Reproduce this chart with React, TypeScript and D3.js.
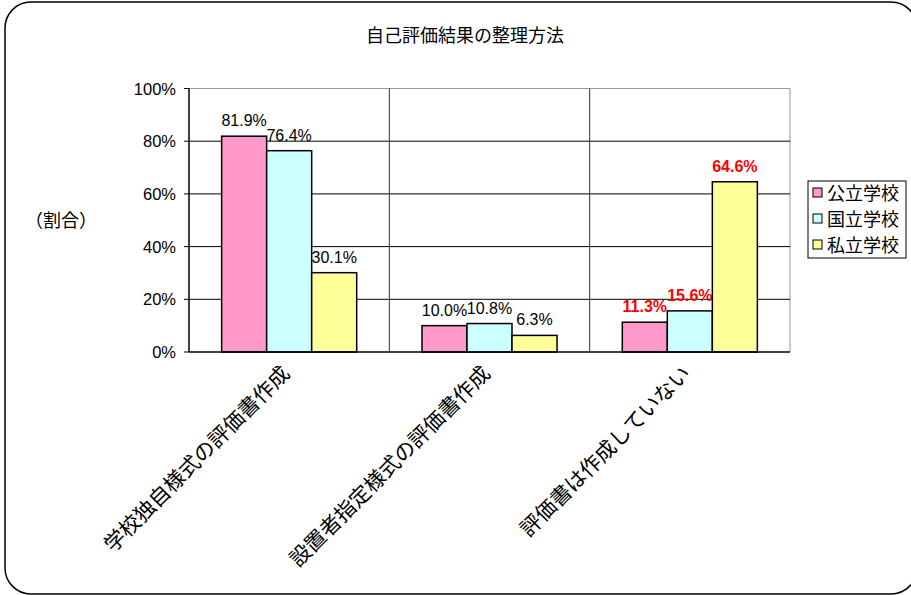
import React from "react";
import * as d3 from "d3";

const categories = ["学校独自様式の評価書作成", "設置者指定様式の評価書作成", "評価書は作成していない"];
const seriesNames = ["公立学校", "国立学校", "私立学校"];
const publicVals = [81.9, 10.0, 11.3];
const nationalVals = [76.4, 10.8, 15.6];
const privateVals = [30.1, 6.3, 64.6];
const yTicks = [0, 20, 40, 60, 80, 100];
const colors = ["#FF99CC", "#CCFFFF", "#FFFF99"];
const highlightCategory = 2;

const W = 911, H = 595;
const plot = { left: 189, right: 790, top: 88.5, bottom: 352 };
const jp = "'Noto Sans CJK JP', sans-serif";
const num = "'Liberation Sans', Arial, sans-serif";

export default function App() {
  const series = [publicVals, nationalVals, privateVals];
  const x0 = d3.scaleBand<string>().domain(categories).range([plot.left, plot.right]).paddingInner(0).paddingOuter(0);
  const x1 = d3.scaleBand<string>().domain(seriesNames).range([0, x0.bandwidth()]).paddingInner(0).paddingOuter(0.725);
  const y = d3.scaleLinear().domain([0, 100]).range([plot.bottom, plot.top]);

  return (
    <svg width={W} height={H} style={{ position: "absolute", left: 0, top: 0, background: "#fff" }}>
      <rect x={5} y={2} width={912} height={592} rx={26} ry={26} fill="#fff" stroke="#000" strokeWidth={1.5} />
      <text x={465} y={42} textAnchor="middle" fontFamily={jp} fontSize={18}>自己評価結果の整理方法</text>
      <text x={61} y={227} textAnchor="middle" fontFamily={jp} fontSize={18}>（割合）</text>

      {/* plot frame */}
      <line x1={plot.left} x2={plot.right} y1={plot.top} y2={plot.top} stroke="#999" />
      <line x1={plot.right} x2={plot.right} y1={plot.top} y2={plot.bottom} stroke="#999" />
      {yTicks.filter(t => t > 0 && t < 100).map(t => (
        <line key={t} x1={plot.left} x2={plot.right} y1={y(t)} y2={y(t)} stroke="#000" />
      ))}
      {categories.slice(1).map(c => (
        <line key={c} x1={x0(c)!} x2={x0(c)!} y1={plot.top} y2={plot.bottom} stroke="#333" />
      ))}
      {yTicks.map(t => (
        <g key={t}>
          <line x1={plot.left - 5} x2={plot.left} y1={y(t)} y2={y(t)} stroke="#000" />
          <text x={176} y={y(t) + 6} textAnchor="end" fontFamily={num} fontSize={16.5}>{t}%</text>
        </g>
      ))}

      {categories.map((c, ci) => (
        <g key={c} transform={`translate(${x0(c)},0)`}>
          {seriesNames.map((s, si) => {
            const v = series[si][ci];
            const bx = x1(s)!;
            const hl = ci === highlightCategory;
            return (
              <g key={s}>
                <rect x={bx} y={y(v)} width={x1.bandwidth()} height={plot.bottom - y(v)} fill={colors[si]} stroke="#000" strokeWidth={1.5} />
                <text x={bx + x1.bandwidth() / 2} y={y(v) - 10} textAnchor="middle" fontFamily={num} fontSize={16}
                  fill={hl ? "#FF0000" : "#000"} fontWeight={hl ? "bold" : "normal"}>{v.toFixed(1)}%</text>
              </g>
            );
          })}
        </g>
      ))}

      <line x1={plot.left} x2={plot.left} y1={plot.top} y2={plot.bottom} stroke="#000" strokeWidth={1.5} />
      <line x1={plot.left} x2={plot.right} y1={plot.bottom} y2={plot.bottom} stroke="#000" strokeWidth={1.5} />

      {categories.map(c => {
        const cx = x0(c)! + x0.bandwidth() / 2 + 2;
        return (
          <text key={c} transform={`translate(${cx},${375}) rotate(-45)`} textAnchor="end" fontFamily={jp} fontSize={21}>{c}</text>
        );
      })}

      <rect x={808} y={181} width={98} height={77} fill="#fff" stroke="#000" />
      {seriesNames.map((s, i) => (
        <g key={s} transform={`translate(813,${193 + i * 26})`}>
          <rect x={0} y={-5} width={9} height={9} fill={colors[i]} stroke="#000" />
          <text x={14} y={6.5} fontFamily={jp} fontSize={18}>{s}</text>
        </g>
      ))}
    </svg>
  );
}
